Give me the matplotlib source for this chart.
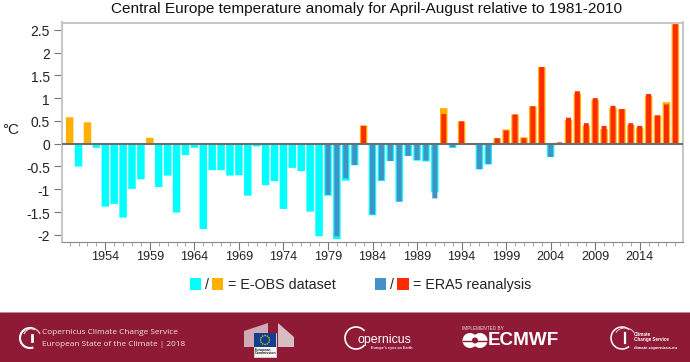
import numpy as np
import matplotlib
matplotlib.use("Agg")
import matplotlib.pyplot as plt
from matplotlib.patches import Rectangle, Arc, Circle, Polygon
from matplotlib.transforms import ScaledTranslation

plt.rcParams['font.family'] = ['Liberation Sans', 'DejaVu Sans']

eobs_years = list(range(1950, 2019))
eobs_values = [0.58, -0.50, 0.47, -0.09, -1.38, -1.32, -1.62, -0.99, -0.78, 0.13,
               -0.95, -0.70, -1.51, -0.25, -0.09, -1.87, -0.58, -0.58, -0.70, -0.69,
               -1.14, -0.06, -0.91, -0.82, -1.43, -0.53, -0.60, -1.49, -2.03, -1.14,
               -2.09, -0.81, -0.47, 0.40, -1.57, -0.82, -0.38, -1.27, -0.27, -0.37,
               -0.39, -1.07, 0.78, -0.09, 0.49, -0.01, -0.56, -0.45, 0.12, 0.31,
               0.64, 0.14, 0.82, 1.68, -0.29, -0.02, 0.52, 1.10, 0.39, 0.96,
               0.32, 0.78, 0.76, 0.41, 0.35, 1.05, 0.62, 0.91, 2.62]
era5_years = list(range(1979, 2019))
era5_values = [-1.12, -2.03, -0.76, -0.47, 0.39, -1.55, -0.80, -0.38, -1.27, -0.27,
               -0.36, -0.37, -1.20, 0.65, -0.08, 0.49, -0.01, -0.56, -0.45, 0.12,
               0.29, 0.64, 0.12, 0.82, 1.68, -0.29, 0.03, 0.57, 1.15, 0.45,
               1.00, 0.39, 0.83, 0.76, 0.45, 0.39, 1.09, 0.62, 0.86, 2.62]
title = "Central Europe temperature anomaly for April-August relative to 1981-2010"
y_ticks = [-2, -1.5, -1, -0.5, 0, 0.5, 1, 1.5, 2, 2.5]
y_labels = ['-2', '-1.5', '-1', '-0.5', '0', '0.5', '1', '1.5', '2', '2.5']
x_ticks = [1954, 1959, 1964, 1969, 1974, 1979, 1984, 1989, 1994, 1999, 2004, 2009, 2014]

CYAN, ORANGE, BLUE, RED = '#00FFFF', '#FFB000', '#4292C6', '#FF2B00'
BANNER = '#8E1A35'
W, H = 690, 362

fig = plt.figure(figsize=(6.9, 3.62), dpi=100)
L, R, T, B = 62, 683, 22.5, 241.5
ax = fig.add_axes([L / W, 1 - B / H, (R - L) / W, (B - T) / H])
ax.set_xlim(1949.14, 2018.86)
ax.set_ylim(-2.145, 2.658)

b1 = ax.bar(eobs_years, eobs_values, width=0.84, lw=0,
            color=[ORANGE if v > 0 else CYAN for v in eobs_values], zorder=2)
b2 = ax.bar(era5_years, era5_values, width=0.56, lw=0,
            color=[RED if v > 0 else BLUE for v in era5_values], zorder=3)
for p in list(b1) + list(b2):
    p.set_snap(False)
ax.axhline(0, color='#6e6e6e', lw=1.5, zorder=4)

for s in ('left', 'top', 'right'):
    ax.spines[s].set_color('#c8c8c8')
    ax.spines[s].set_linewidth(1.5)
ax.spines['bottom'].set_color('#8a8a8a')
ax.spines['bottom'].set_linewidth(0.8)

ax.set_yticks(y_ticks, y_labels)
ax.set_xticks(x_ticks, [str(t) for t in x_ticks])
ax.set_xticks(range(1950, 2019), minor=True)
ax.tick_params(axis='y', direction='out', length=5.8, width=0.8, color='#777777',
               labelsize=10, labelcolor='#222222', pad=3)
ax.tick_params(axis='x', which='major', direction='out', length=5.5, width=0.8,
               color='#777777', labelsize=9.1, labelcolor='#222222', pad=1.5)
ax.tick_params(axis='x', which='minor', direction='out', length=3, width=0.6, color='#999999')
shift = ScaledTranslation(0, -1 / 100, fig.dpi_scale_trans)
for lab in ax.get_yticklabels():
    lab.set_transform(lab.get_transform() + shift)

ov = fig.add_axes([0, 0, 1, 1], zorder=5)
ov.set_xlim(0, W)
ov.set_ylim(H, 0)
ov.axis('off')
ov.patch.set_alpha(0)

ov.text(367, 9.5, title, ha='center', va='center', fontsize=11.1, color='#111111')
ov.text(2, 129.5, '°C', ha='left', va='center', fontsize=11, color='#222222')

def sw(x, c):
    ov.add_patch(Rectangle((x, 278), 11.5, 12, fc=c, ec='none'))

LY = 285
sw(189.5, CYAN)
ov.text(205, LY, '/', ha='left', va='center', fontsize=10.3, color='#222222')
sw(211.5, ORANGE)
ov.text(228, LY, '= E-OBS dataset', ha='left', va='center', fontsize=10.3, color='#222222')
sw(374.5, BLUE)
ov.text(390, LY, '/', ha='left', va='center', fontsize=10.3, color='#222222')
sw(397, RED)
ov.text(413, LY, '= ERA5 reanalysis', ha='left', va='center', fontsize=10.3, color='#222222')

# banner
ov.add_patch(Rectangle((0, 312), W, 50, fc=BANNER, ec='none'))
ov.plot([0, W], [312.3, 312.3], color='#c9a0aa', lw=0.6)

# C3S logo left
ov.add_patch(Arc((30, 338), 20, 20, theta1=70, theta2=300, color='white', lw=1.5))
ov.add_patch(Arc((32, 337), 17, 17, theta1=200, theta2=340, color='#e8d5da', lw=0.9))
ov.plot([32, 32], [335, 341], color='white', lw=2)
ov.text(42, 333, 'Copernicus Climate Change Service', ha='left', va='center',
        fontsize=5.95, color='#f2e4e7', family='Open Sans')
ov.text(42, 344, 'European State of the Climate | 2018', ha='left', va='center',
        fontsize=5.95, color='#f2e4e7', family='Open Sans')

# European Commission
ov.add_patch(Polygon([(244, 331), (268, 323), (268, 347), (244, 347)], fc='#cfa9b3', ec='none'))
ov.add_patch(Polygon([(278, 323), (294, 337), (294, 347), (278, 347)], fc='#d8bcc4', ec='none'))
ov.add_patch(Rectangle((254, 333), 22, 24, fc='#f5f5f5', ec='#dfe6ef', lw=0.5))
ov.add_patch(Rectangle((254, 333), 22, 14, fc='#123f8c', ec='none'))
for a in np.deg2rad(np.arange(0, 360, 30)):
    ov.add_patch(Circle((265 + 4.5 * np.cos(a), 340 + 4.5 * np.sin(a)), 0.7, fc='#ffd617', ec='none'))
ov.text(255, 350, 'European', fontsize=2.6, color='#222222', va='center', fontweight='bold')
ov.text(255, 353.5, 'Commission', fontsize=2.6, color='#222222', va='center', fontweight='bold')

# Copernicus
ov.add_patch(Arc((356, 338), 22, 22, theta1=40, theta2=320, color='white', lw=1.2))
ov.text(357, 340, 'opernicus', ha='left', va='center', fontsize=8.9, color='white')
ov.text(371, 347.6, "Europe's eyes on Earth", ha='left', va='center', fontsize=2.7,
        color='#f2e4e7', fontweight='bold')

# ECMWF
ov.text(462, 328, 'IMPLEMENTED BY', ha='left', va='center', fontsize=3.4, color='#f0dfe3')
ov.add_patch(Circle((470, 340.5), 7.5, fc='white', ec='none'))
ov.add_patch(Circle((480, 340.5), 7.5, fc='white', ec='none'))
ov.add_patch(Circle((475, 340.5), 3, fc=BANNER, ec='none'))
ov.plot([463, 488], [340.5, 340.5], color=BANNER, lw=1)
ov.text(488, 340.5, 'ECMWF', ha='left', va='center', fontsize=13.6, fontweight='bold', color='white')

# Climate Change Service
ov.add_patch(Arc((622, 338), 22, 22, theta1=50, theta2=310, color='white', lw=1.1))
ov.plot([625, 625], [333, 343], color='white', lw=1.6)
ov.add_patch(Arc((625, 336), 20, 16, theta1=200, theta2=340, color='#e8d5da', lw=0.7))
ov.text(634, 335, 'Climate', fontsize=3.3, color='white', va='center', fontweight='bold')
ov.text(634, 339.5, 'Change Service', fontsize=3.3, color='white', va='center', fontweight='bold')
ov.text(634, 347.5, 'climate.copernicus.eu', fontsize=3.1, color='white', va='center', fontweight='bold')

fig.savefig('out.png', dpi=100)
